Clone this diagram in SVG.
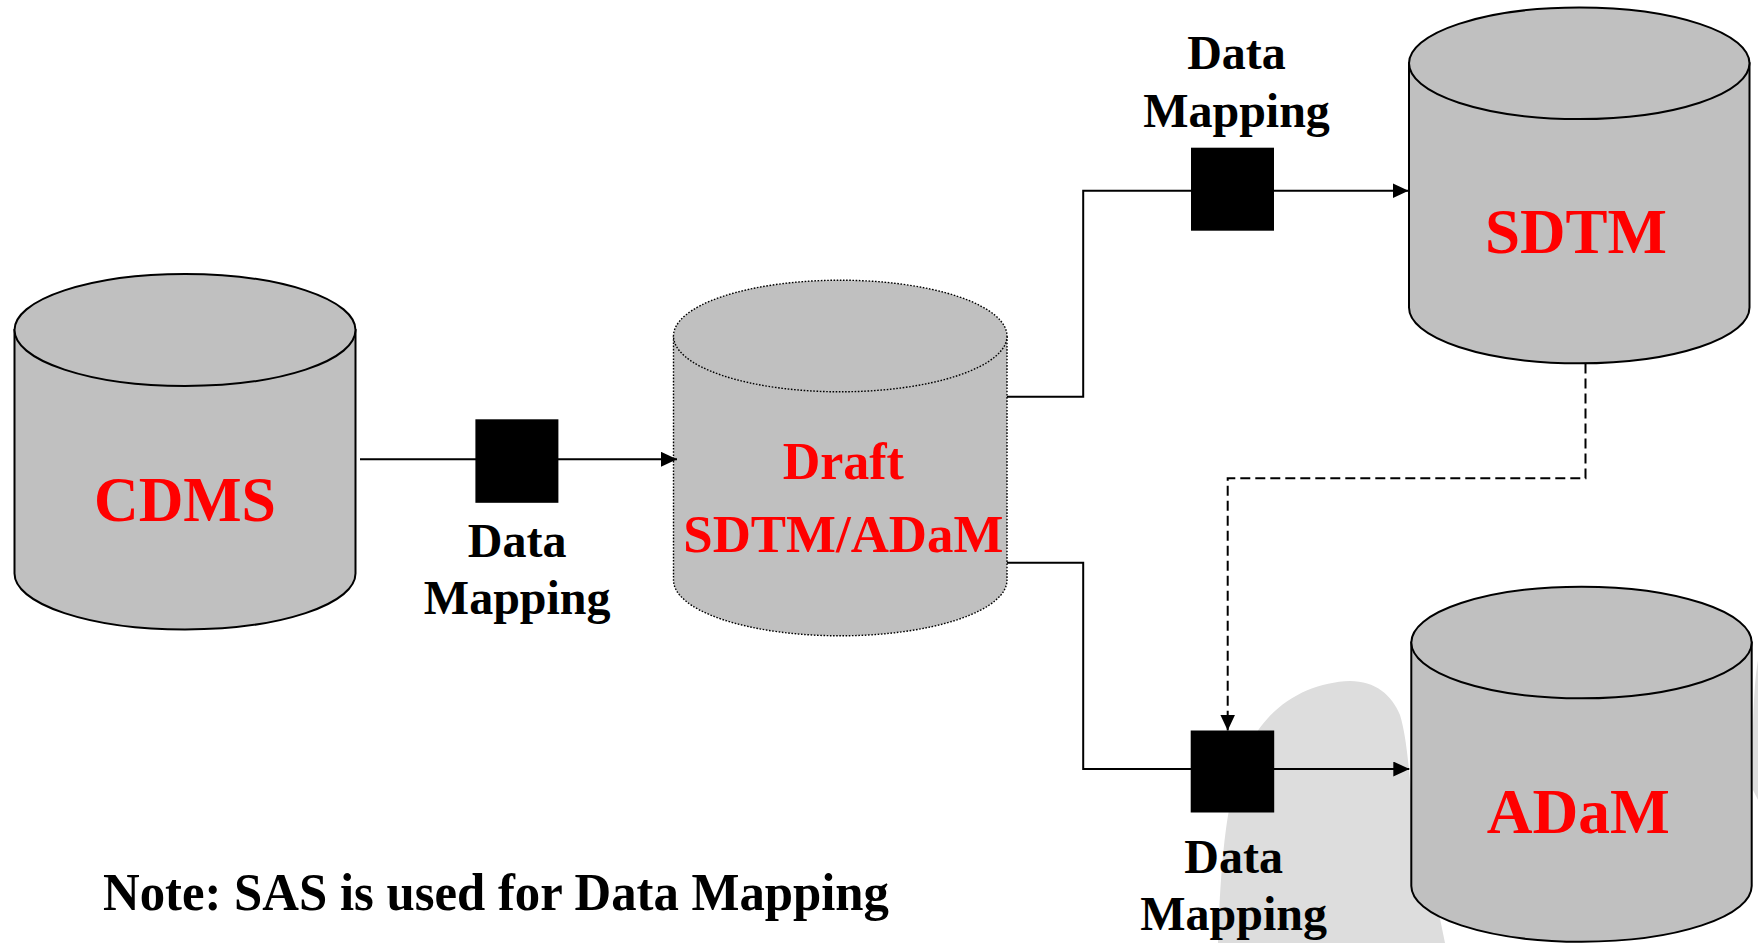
<svg xmlns="http://www.w3.org/2000/svg" width="1758" height="943" viewBox="0 0 1758 943">
  <style>
    .db { fill: #c0c0c0; stroke: #000; stroke-width: 2; }
    .db-draft { fill: #c0c0c0; stroke: #000; stroke-width: 1.4; stroke-dasharray: 1.6 1.6; }
    .big { font-family: "Liberation Serif", "Times New Roman", serif; font-weight: bold; fill: #ff0000; text-anchor: middle; }
    .lbl { font-family: "Liberation Serif", "Times New Roman", serif; font-weight: bold; font-size: 48px; fill: #000; text-anchor: middle; }
    .note { font-family: "Liberation Serif", "Times New Roman", serif; font-weight: bold; font-size: 53px; fill: #000; }
    .wire { fill: none; stroke: #000; stroke-width: 2; }
    .wire-dash { fill: none; stroke: #000; stroke-width: 2; stroke-dasharray: 10 5; }
    .proc { fill: #000; }
  </style>
  <defs>
    <marker id="arrow" markerUnits="userSpaceOnUse" markerWidth="16" markerHeight="15" refX="16" refY="7.5" orient="auto">
      <path d="M0,0 L16,7.5 L0,15 Z" fill="#000"/>
    </marker>
  </defs>

  <rect width="1758" height="943" fill="#fff"/>

  <!-- light background shape -->
  <g id="backdrop" fill="#dddddd">
    <path d="M1218,943 C1220,880 1224,830 1232,795 C1240,760 1252,735 1268,718 C1290,694 1320,682 1350,681 C1375,681 1392,695 1400,715 C1406,735 1408,760 1411,790 L1430,870 L1445,943 Z"/>
    <path d="M1758,660 C1753,690 1752,740 1753,790 L1758,800 Z"/>
  </g>

  <!-- data stores -->
  <g id="cdms">
    <path class="db" d="M14.5,330 V573.5 A170.5,56 0 0 0 355.5,573.5 V330 Z"/>
    <ellipse class="db" cx="185" cy="330" rx="170.5" ry="56"/>
    <text class="big" x="185" y="521" font-size="64" textLength="182" lengthAdjust="spacingAndGlyphs">CDMS</text>
  </g>

  <g id="draft">
    <path class="db-draft" d="M673.5,336 V580 A166.75,55.8 0 0 0 1007,580 V336 Z"/>
    <ellipse class="db-draft" cx="840.25" cy="336" rx="166.75" ry="55.8"/>
    <text class="big" x="843.3" y="479.3" font-size="52">Draft</text>
    <text class="big" x="843.3" y="551.7" font-size="53" textLength="320" lengthAdjust="spacingAndGlyphs">SDTM/ADaM</text>
  </g>

  <g id="sdtm">
    <path class="db" d="M1409,63.3 V307.5 A170.25,55.8 0 0 0 1749.5,307.5 V63.3 Z"/>
    <ellipse class="db" cx="1579.25" cy="63.3" rx="170.25" ry="55.8"/>
    <text class="big" x="1576" y="253" font-size="63" textLength="182" lengthAdjust="spacingAndGlyphs">SDTM</text>
  </g>

  <g id="adam">
    <path class="db" d="M1411.3,642.5 V886 A170.2,55.8 0 0 0 1751.7,886 V642.5 Z"/>
    <ellipse class="db" cx="1581.5" cy="642.5" rx="170.2" ry="55.8"/>
    <text class="big" x="1578.3" y="832.7" font-size="64" textLength="183" lengthAdjust="spacingAndGlyphs">ADaM</text>
  </g>

  <!-- connectors -->
  <g id="connectors">
    <path class="wire" d="M360,459.3 H677" marker-end="url(#arrow)"/>
    <path class="wire" d="M1007,396.7 H1083.2 V190.7 H1408.5" marker-end="url(#arrow)"/>
    <path class="wire" d="M1007,562.7 H1083.2 V769 H1409.3" marker-end="url(#arrow)"/>
    <path class="wire-dash" d="M1585.5,363.5 V478.3 H1227.7 V730.5" marker-end="url(#arrow)"/>
  </g>

  <!-- mapping steps -->
  <g id="map-cdms">
    <rect class="proc" x="475.4" y="419.3" width="83" height="83.5"/>
    <text class="lbl" x="517.2" y="557">Data</text>
    <text class="lbl" x="517.2" y="614">Mapping</text>
  </g>

  <g id="map-sdtm">
    <rect class="proc" x="1191" y="147.7" width="83" height="83"/>
    <text class="lbl" x="1236.5" y="68.5">Data</text>
    <text class="lbl" x="1236.5" y="126.5">Mapping</text>
  </g>

  <g id="map-adam">
    <rect class="proc" x="1190.7" y="730.5" width="83.5" height="82"/>
    <text class="lbl" x="1233.6" y="872.5">Data</text>
    <text class="lbl" x="1233.6" y="930">Mapping</text>
  </g>

  <g id="note">
    <text class="note" x="103" y="910" textLength="786" lengthAdjust="spacingAndGlyphs">Note: SAS is used for Data Mapping</text>
  </g>
</svg>
